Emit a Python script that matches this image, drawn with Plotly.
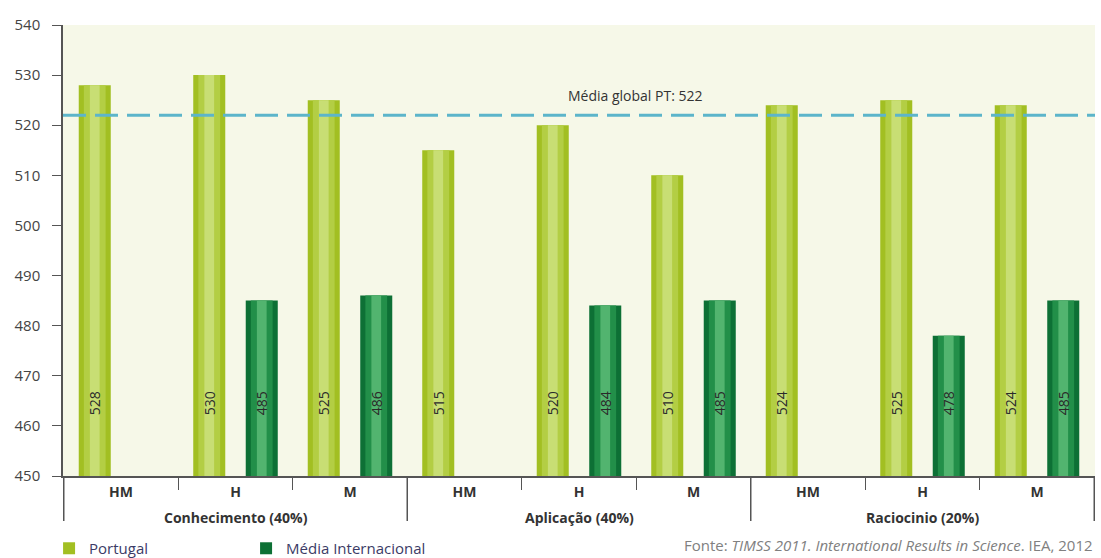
import plotly.graph_objects as go

# TIMSS 2011 science scores by cognitive domain and sex
domains = ["Conhecimento (40%)"] * 3 + ["Aplicação (40%)"] * 3 + ["Raciocinio (20%)"] * 3
groups = ["HM", "H", "M"] * 3
portugal = [528, 530, 525, 515, 520, 510, 524, 525, 524]
internacional = [None, 485, 486, None, 484, 485, None, 478, 485]
media_global_pt = 522

y_ticks = [450, 460, 470, 480, 490, 500, 510, 520, 530, 540]

FONT = "Open Sans"
Y_MIN = 450
LABEL_SPAN = 29          # value labels are centred this far above the axis floor
BAR_GAP = 0.083
AXIS_GREY = "#555555"

# one category per (domain, sex) pair; only the sex is written at the tick
keys = [f"{d} · {g}" for d, g in zip(domains, groups)]

# runs of consecutive categories sharing a domain
runs = []
for i, d in enumerate(domains):
    if runs and runs[-1][0] == d:
        runs[-1][2] = i
    else:
        runs.append([d, i, i])

# shading layers (colour, width in category units) giving bars a rounded look
shades = {
    "pt": ["#a2bf22", "#b3ce44", "#c8de74"],
    "int": ["#0d7035", "#228f49", "#52b46f"],
}
layer_widths = [None, 0.19, 0.085]

fig = go.Figure()

for grp, name, vals in (("pt", "Portugal", portugal), ("int", "Média Internacional", internacional)):
    for i, (color, w) in enumerate(zip(shades[grp], layer_widths)):
        fig.add_trace(go.Bar(
            x=keys, y=[None if v is None else v - Y_MIN for v in vals], base=Y_MIN,
            name=name, offsetgroup=grp, width=w,
            marker=dict(color=color, line=dict(width=0)),
            showlegend=(i == 0), legendgroup=grp, hoverinfo="skip",
        ))

# value labels written vertically near the foot of each bar
for grp, vals in (("pt", portugal), ("int", internacional)):
    fig.add_trace(go.Bar(
        x=keys, y=[None if v is None else LABEL_SPAN for v in vals], base=Y_MIN,
        offsetgroup=grp, marker=dict(color="rgba(0,0,0,0)", line=dict(width=0)),
        text=["" if v is None else str(v) for v in vals],
        textposition="inside", insidetextanchor="middle", textangle=-90,
        textfont=dict(family=FONT, size=14, color="#2a2a2a"),
        constraintext="none", showlegend=False, hoverinfo="skip",
    ))

fig.add_hline(
    y=media_global_pt, line=dict(color="#5cb5ca", width=3, dash="23px,9px"),
    layer="above",
)
fig.add_annotation(
    x=0.555, xref="paper", y=media_global_pt, yref="y",
    text=f"Média global PT: {media_global_pt}", showarrow=False,
    yshift=20, font=dict(family=FONT, size=14, color="#333333"),
)

# domain names and the long dividers between domains
for d, start, end in runs:
    fig.add_annotation(
        x=(start + end) / 2, xref="x", y=-0.093, yref="paper",
        text=f"<b>{d}</b>", showarrow=False, yanchor="middle",
        font=dict(family=FONT, size=14, color="#333333"),
    )
boundaries = [runs[0][1] - 0.5] + [end + 0.5 for _, _, end in runs]
for b in boundaries:
    fig.add_shape(
        type="line", xref="x", yref="paper", x0=b, x1=b, y0=0, y1=-0.1,
        line=dict(color=AXIS_GREY, width=1.5),
    )

fig.add_annotation(
    x=1.0, xref="paper", y=-0.153, yref="paper", xanchor="right", yanchor="middle",
    text="Fonte: <i>TIMSS 2011. International Results in Science</i>. IEA, 2012",
    showarrow=False, font=dict(family=FONT, size=15, color="#808080"),
)

fig.update_layout(
    width=1101, height=558,
    margin=dict(l=63, r=6, t=25, b=82),
    paper_bgcolor="white", plot_bgcolor="#f6f8e8",
    barmode="group", bargap=BAR_GAP, bargroupgap=0.39,
    font=dict(family=FONT, color="#333333"),
    legend=dict(
        orientation="h", x=-0.0135, xanchor="left",
        y=0.017, yref="container", yanchor="middle",
        font=dict(family=FONT, size=15, color="#3b3b66"),
        entrywidth=152, entrywidthmode="pixels", tracegroupgap=0,
    ),
)

fig.update_xaxes(
    type="category", tickvals=keys, ticktext=groups,
    showline=True, linecolor=AXIS_GREY, linewidth=1.5,
    ticks="outside", tickson="boundaries", ticklen=12, tickcolor=AXIS_GREY,
    tickfont=dict(family=FONT, size=14, color="#333333", weight="bold"),
    ticklabelstandoff=2, showgrid=False, automargin=False,
)
fig.update_yaxes(
    range=[Y_MIN, 540], tickvals=y_ticks, showline=True, linecolor=AXIS_GREY,
    linewidth=1.5, ticks="outside", ticklen=9, tickcolor=AXIS_GREY,
    tickfont=dict(family=FONT, size=15, color="#444444"), showgrid=False,
    zeroline=False, ticklabelstandoff=9, automargin=False,
)

fig.write_html("out.html")
